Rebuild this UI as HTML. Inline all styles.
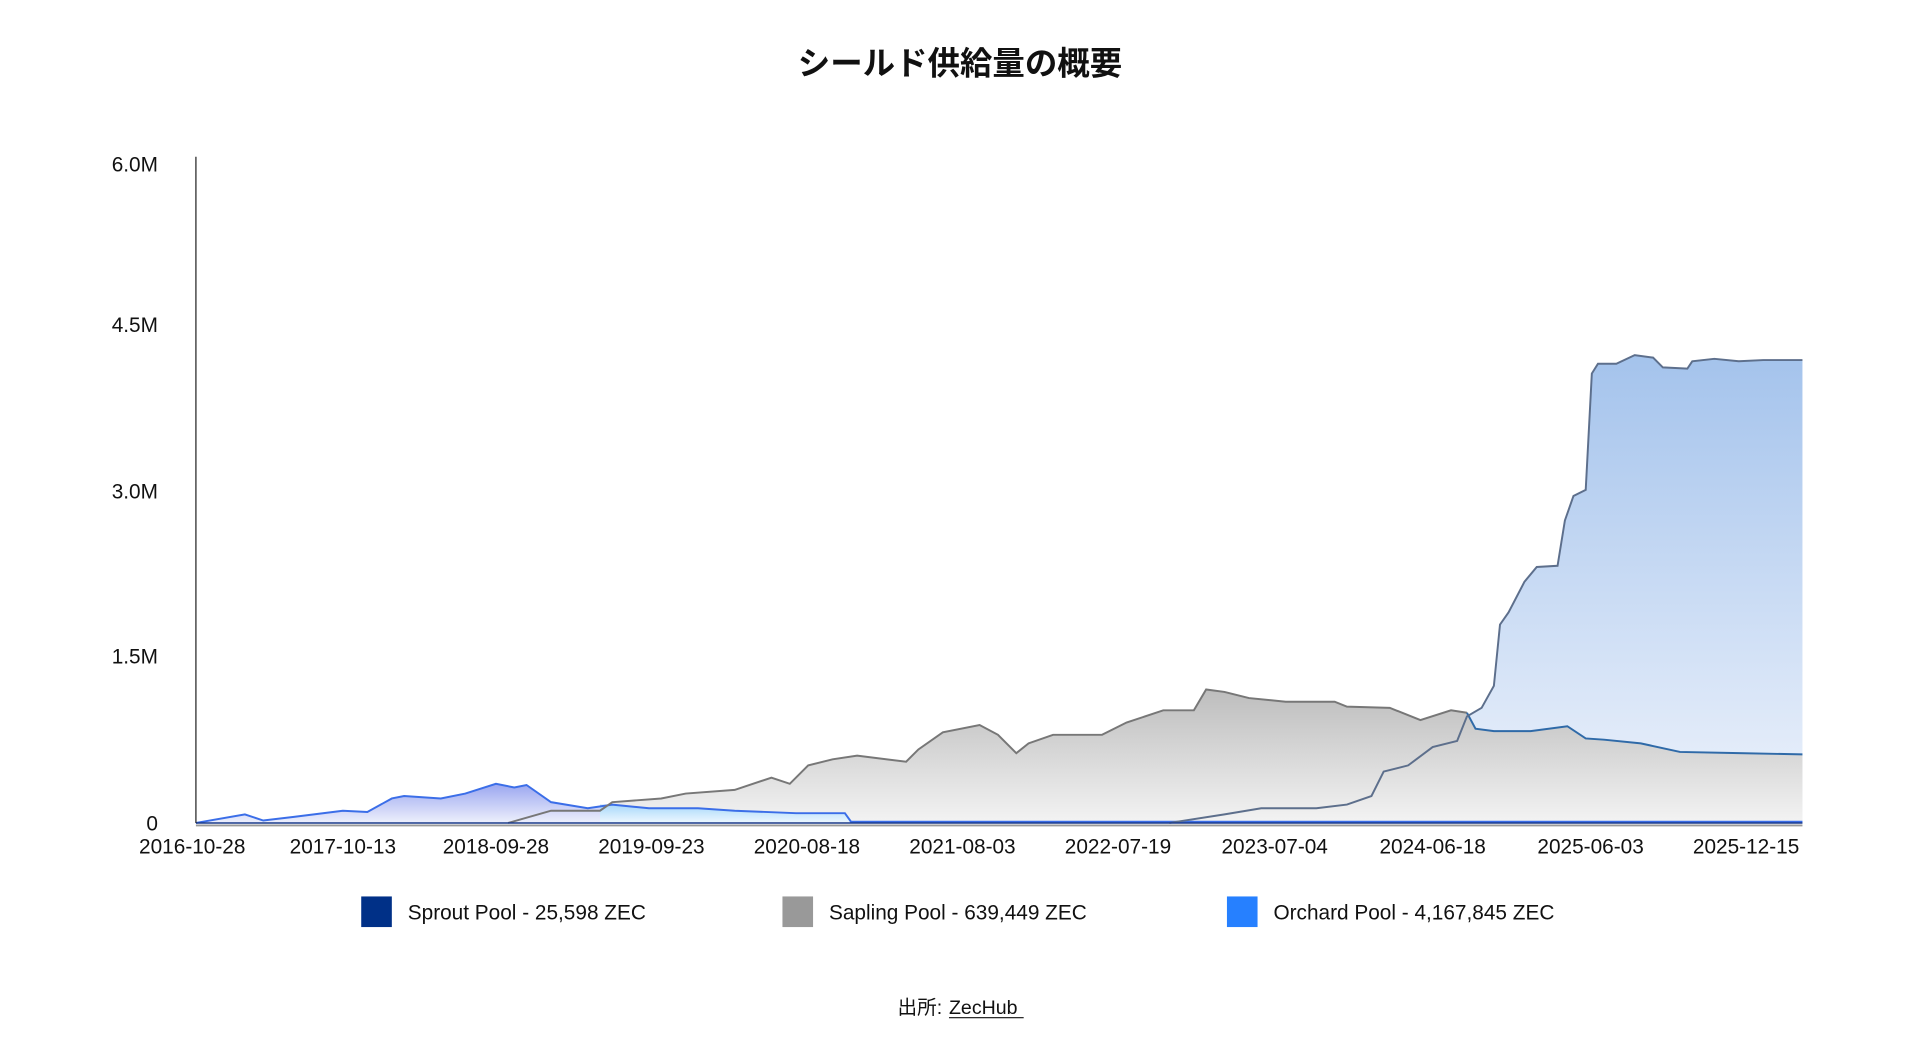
<!DOCTYPE html>
<html><head><meta charset="utf-8"><style>
html,body{margin:0;padding:0;background:#fff;width:1920px;height:1063px;overflow:hidden}
svg{display:block}
text{font-family:"Liberation Sans","Noto Sans CJK JP",sans-serif;fill:#111}
</style></head><body>
<svg width="1920" height="1063" viewBox="0 0 1568 868" preserveAspectRatio="none" xmlns="http://www.w3.org/2000/svg">
<defs>
<linearGradient id="gOr" x1="0" y1="0" x2="0" y2="1"><stop offset="0" stop-color="#a4c3ec"/><stop offset="1" stop-color="#eef3fc"/></linearGradient>
<linearGradient id="gSa" x1="0" y1="0" x2="0" y2="1"><stop offset="0" stop-color="#bdbdbd"/><stop offset="1" stop-color="#f3f3f3"/></linearGradient>
<linearGradient id="gSp" x1="0" y1="0" x2="0" y2="1"><stop offset="0" stop-color="#9aa6f0"/><stop offset="1" stop-color="#eef0fc"/></linearGradient>
<linearGradient id="gSp2" x1="0" y1="0" x2="0" y2="1"><stop offset="0" stop-color="#a8d8fa"/><stop offset="1" stop-color="#eef8ff"/></linearGradient>
</defs>
<text x="784" y="61" text-anchor="middle" font-size="26.5" font-weight="bold">シールド供給量の概要</text>
<g font-size="17" text-anchor="end">
<text x="129" y="140">6.0M</text>
<text x="129" y="271">4.5M</text>
<text x="129" y="407">3.0M</text>
<text x="129" y="542">1.5M</text>
<text x="129" y="678">0</text>
</g>
<path d="M955,672 L1000,665 L1030,660 L1075,660 L1100,657 L1120,650 L1130,630 L1150,625 L1170,610 L1190,605 L1198,585 L1210,578 L1220,560 L1225,510 L1232,500 L1245,475 L1255,463 L1272,462 L1278,425 L1285,405 L1295,400 L1300,305 L1305,297 L1320,297 L1335,290 L1350,292 L1358,300 L1378,301 L1382,295 L1400,293 L1420,295 L1440,294 L1472,294 L1472,672 Z" fill="url(#gOr)"/>
<path d="M415,672 L450,662 L490,662 L500,655 L540,652 L560,648 L600,645 L630,635 L645,640 L660,625 L680,620 L700,617 L740,622 L750,612 L770,598 L800,592 L815,600 L830,615 L840,607 L860,600 L900,600 L920,590 L950,580 L975,580 L985,563 L1000,565 L1020,570 L1050,573 L1090,573 L1100,577 L1135,578 L1160,588 L1185,580 L1198,582 L1205,595 L1220,597 L1250,597 L1280,593 L1295,603 L1310,604 L1340,607 L1372,614 L1420,615 L1472,616 L1472,672 Z" fill="url(#gSa)"/>
<path d="M160,672 L200,665 L215,670 L240,667 L280,662 L300,663 L320,652 L330,650 L360,652 L380,648 L405,640 L420,643 L430,641 L450,655 L480,660 L500,657 L500,672 Z" fill="url(#gSp)"/>
<path d="M490,672 L490,657 L500,657 L530,660 L570,660 L600,662 L650,664 L690,664 L695,671 Z" fill="url(#gSp2)"/>
<path d="M160,672 L200,665 L215,670 L240,667 L280,662 L300,663 L320,652 L330,650 L360,652 L380,648 L405,640 L420,643 L430,641 L450,655 L480,660 L500,657 L530,660 L570,660 L600,662 L650,664 L690,664 L695,671 L1472,671" fill="none" stroke="#3b6ee8" stroke-width="1.6"/>
<path d="M415,672 L450,662 L490,662 L500,655 L540,652 L560,648 L600,645 L630,635 L645,640 L660,625 L680,620 L700,617 L740,622 L750,612 L770,598 L800,592 L815,600 L830,615 L840,607 L860,600 L900,600 L920,590 L950,580 L975,580 L985,563 L1000,565 L1020,570 L1050,573 L1090,573 L1100,577 L1135,578 L1160,588 L1185,580 L1198,582" fill="none" stroke="#777" stroke-width="1.6"/>
<path d="M1198,582 L1205,595 L1220,597 L1250,597 L1280,593 L1295,603 L1310,604 L1340,607 L1372,614 L1420,615 L1472,616" fill="none" stroke="#2f6aa8" stroke-width="1.6"/>
<path d="M955,672 L1000,665 L1030,660 L1075,660 L1100,657 L1120,650 L1130,630 L1150,625 L1170,610 L1190,605 L1198,585 L1210,578 L1220,560 L1225,510 L1232,500 L1245,475 L1255,463 L1272,462 L1278,425 L1285,405 L1295,400 L1300,305 L1305,297 L1320,297 L1335,290 L1350,292 L1358,300 L1378,301 L1382,295 L1400,293 L1420,295 L1440,294 L1472,294" fill="none" stroke="#5d6f8c" stroke-width="1.6"/>
<line x1="160" y1="674" x2="1472" y2="674" stroke="#999" stroke-width="1.5"/>
<line x1="160" y1="672" x2="1472" y2="672" stroke="#1a3a8a" stroke-width="1.2"/>
<line x1="160" y1="128" x2="160" y2="672" stroke="#222" stroke-width="1"/>
<g font-size="17" text-anchor="middle">
<text x="157" y="697">2016-10-28</text>
<text x="280" y="697">2017-10-13</text>
<text x="405" y="697">2018-09-28</text>
<text x="532" y="697">2019-09-23</text>
<text x="659" y="697">2020-08-18</text>
<text x="786" y="697">2021-08-03</text>
<text x="913" y="697">2022-07-19</text>
<text x="1041" y="697">2023-07-04</text>
<text x="1170" y="697">2024-06-18</text>
<text x="1299" y="697">2025-06-03</text>
<text x="1426" y="697">2025-12-15</text>
</g>
<rect x="295" y="732" width="25" height="25" fill="#003087"/>
<text x="333" y="751" font-size="17">Sprout Pool - 25,598 ZEC</text>
<rect x="639" y="732" width="25" height="25" fill="#999"/>
<text x="677" y="751" font-size="17">Sapling Pool - 639,449 ZEC</text>
<rect x="1002" y="732" width="25" height="25" fill="#2680ff"/>
<text x="1040" y="751" font-size="17">Orchard Pool - 4,167,845 ZEC</text>
<text x="733" y="828" font-size="16">出所:</text>
<text x="775" y="828" font-size="16">ZecHub</text>
<line x1="775" y1="831" x2="836" y2="831" stroke="#111" stroke-width="1"/>
</svg>
</body></html>
